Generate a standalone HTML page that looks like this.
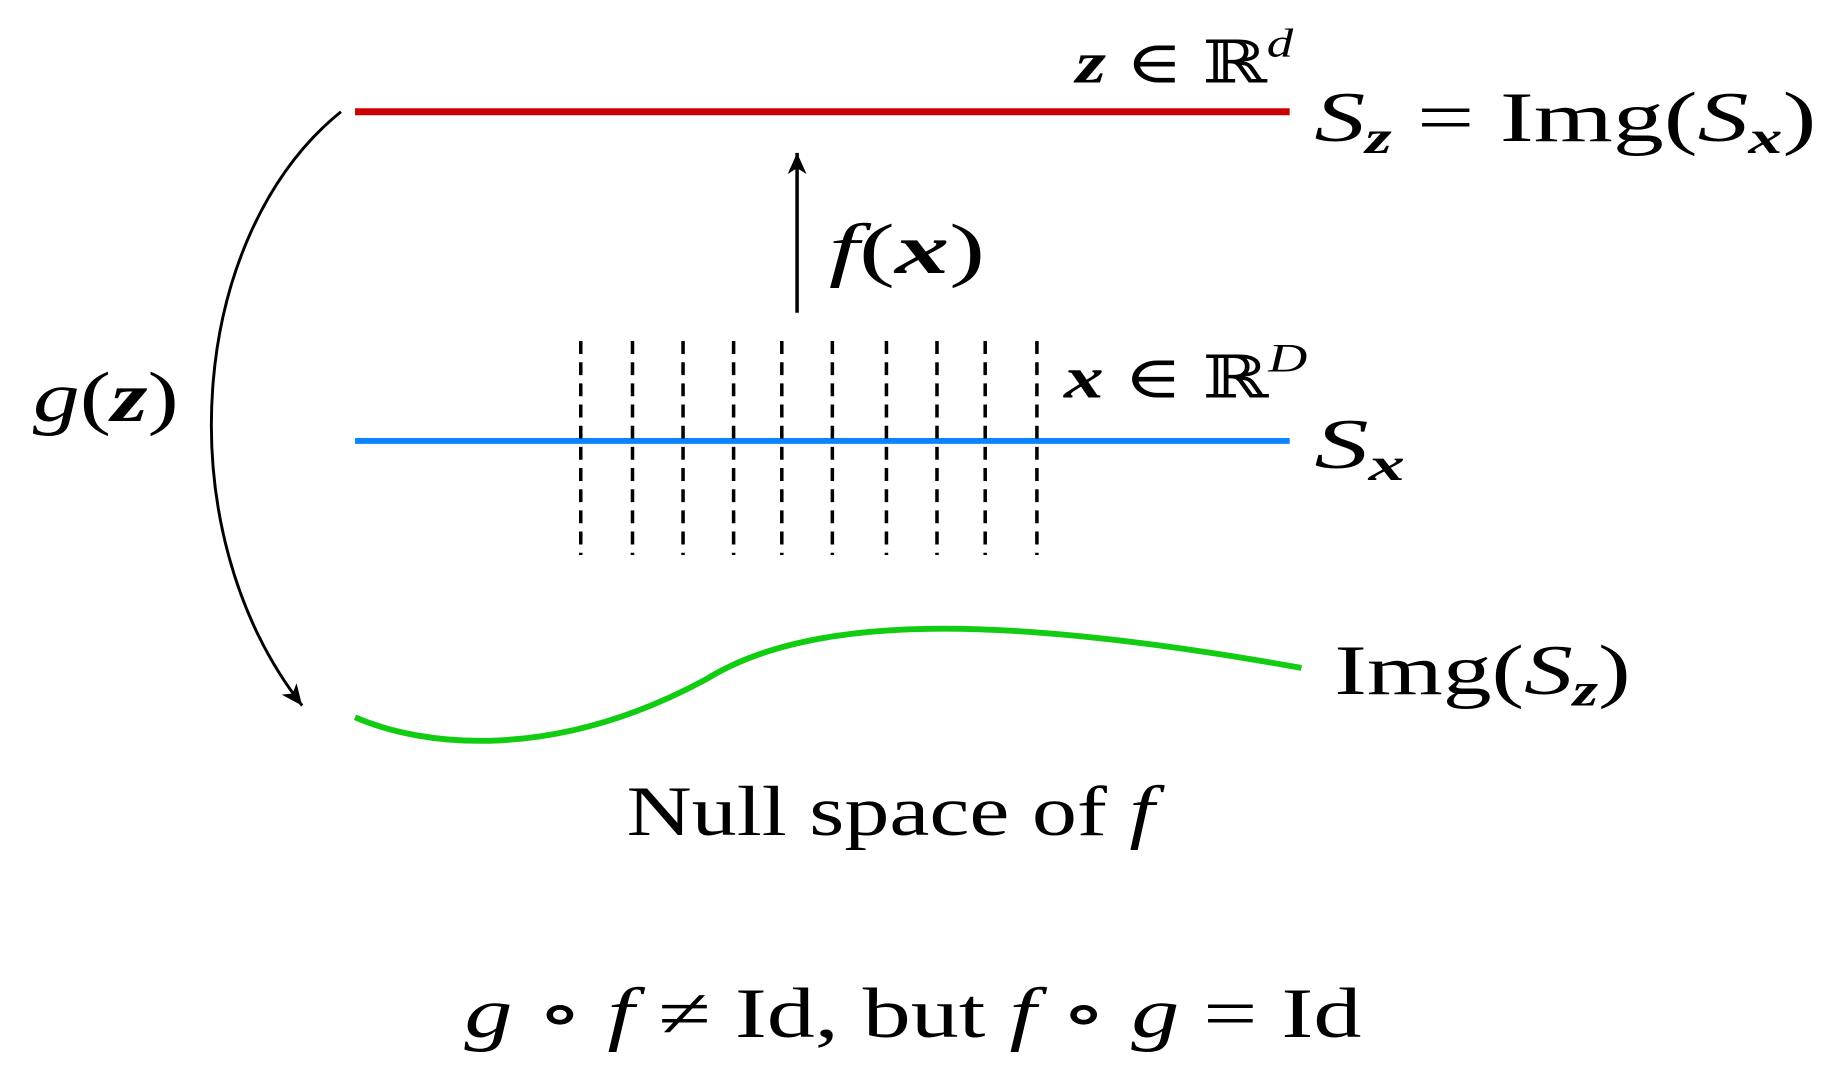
<!DOCTYPE html>
<html><head><style>html,body{margin:0;padding:0;background:#fff;}svg{display:block}</style></head>
<body>
<svg width="1834" height="1076" viewBox="0 0 1560 915" preserveAspectRatio="none" xmlns="http://www.w3.org/2000/svg" font-family="Liberation Serif, DejaVu Serif, serif">
<defs>
<marker id="ah2" markerWidth="20" markerHeight="20" refX="18" refY="8" orient="auto" markerUnits="userSpaceOnUse"><path d="M0,0 L18,8 L0,16 L5,8 Z" fill="#000"/></marker></defs>
<line x1="302" y1="95" x2="1097" y2="95" stroke="#cc0000" stroke-width="6"/>
<line x1="302" y1="375" x2="1097" y2="375" stroke="#0a84ff" stroke-width="5"/>
<g stroke="#000" stroke-width="3" stroke-dasharray="11,7">
<line x1="494" y1="290" x2="494" y2="472"/><line x1="538" y1="290" x2="538" y2="472"/><line x1="581" y1="290" x2="581" y2="472"/><line x1="624" y1="290" x2="624" y2="472"/><line x1="665" y1="290" x2="665" y2="472"/><line x1="708" y1="290" x2="708" y2="472"/><line x1="754" y1="290" x2="754" y2="472"/><line x1="797" y1="290" x2="797" y2="472"/><line x1="838" y1="290" x2="838" y2="472"/><line x1="882" y1="290" x2="882" y2="472"/>
</g>
<line x1="678" y1="266" x2="678" y2="130" stroke="#000" stroke-width="3" marker-end="url(#ah2)"/>
<path d="M290,95 C160,200 140,450 257,600" fill="none" stroke="#000" stroke-width="2.5" marker-end="url(#ah2)"/>
<path d="M302,610 C360,635 470,648 600,578 C690,522 850,522 1107,568" fill="none" stroke="#11cc11" stroke-width="5"/>
<g font-size="60" fill="#000">
<text x="705" y="232" textLength="133" lengthAdjust="spacingAndGlyphs"><tspan font-style="italic">f</tspan>(<tspan font-style="italic" font-weight="bold">x</tspan>)</text>
<text x="915" y="70" font-size="50" textLength="185" lengthAdjust="spacingAndGlyphs"><tspan font-style="italic" font-weight="bold">z</tspan> ∈ ℝ<tspan font-style="italic" font-size="34" dy="-22">d</tspan></text>
<text x="1118" y="120" textLength="427" lengthAdjust="spacingAndGlyphs"><tspan font-style="italic">S</tspan><tspan font-style="italic" font-weight="bold" font-size="40" dy="10">z</tspan><tspan dy="-10"> = Img(</tspan><tspan font-style="italic">S</tspan><tspan font-style="italic" font-weight="bold" font-size="40" dy="10">x</tspan><tspan dy="-10">)</tspan></text>
<text x="905" y="338" font-size="50" textLength="207" lengthAdjust="spacingAndGlyphs"><tspan font-style="italic" font-weight="bold">x</tspan> ∈ ℝ<tspan font-style="italic" font-size="34" dy="-22">D</tspan></text>
<text x="1118" y="398" textLength="77" lengthAdjust="spacingAndGlyphs"><tspan font-style="italic">S</tspan><tspan font-style="italic" font-weight="bold" font-size="40" dy="10">x</tspan></text>
<text x="1135" y="590" textLength="252" lengthAdjust="spacingAndGlyphs">Img(<tspan font-style="italic">S</tspan><tspan font-style="italic" font-weight="bold" font-size="40" dy="10">z</tspan><tspan dy="-10">)</tspan></text>
<text x="533" y="710" textLength="449" lengthAdjust="spacingAndGlyphs">Null space of <tspan font-style="italic">f</tspan></text>
<text x="395" y="882" textLength="763" lengthAdjust="spacingAndGlyphs"><tspan font-style="italic">g</tspan> ∘ <tspan font-style="italic">f</tspan> ≠ Id, but <tspan font-style="italic">f</tspan> ∘ <tspan font-style="italic">g</tspan> = Id</text>
<text x="28" y="358" textLength="124" lengthAdjust="spacingAndGlyphs"><tspan font-style="italic">g</tspan>(<tspan font-style="italic" font-weight="bold">z</tspan>)</text>
</g>
</svg>
</body></html>
